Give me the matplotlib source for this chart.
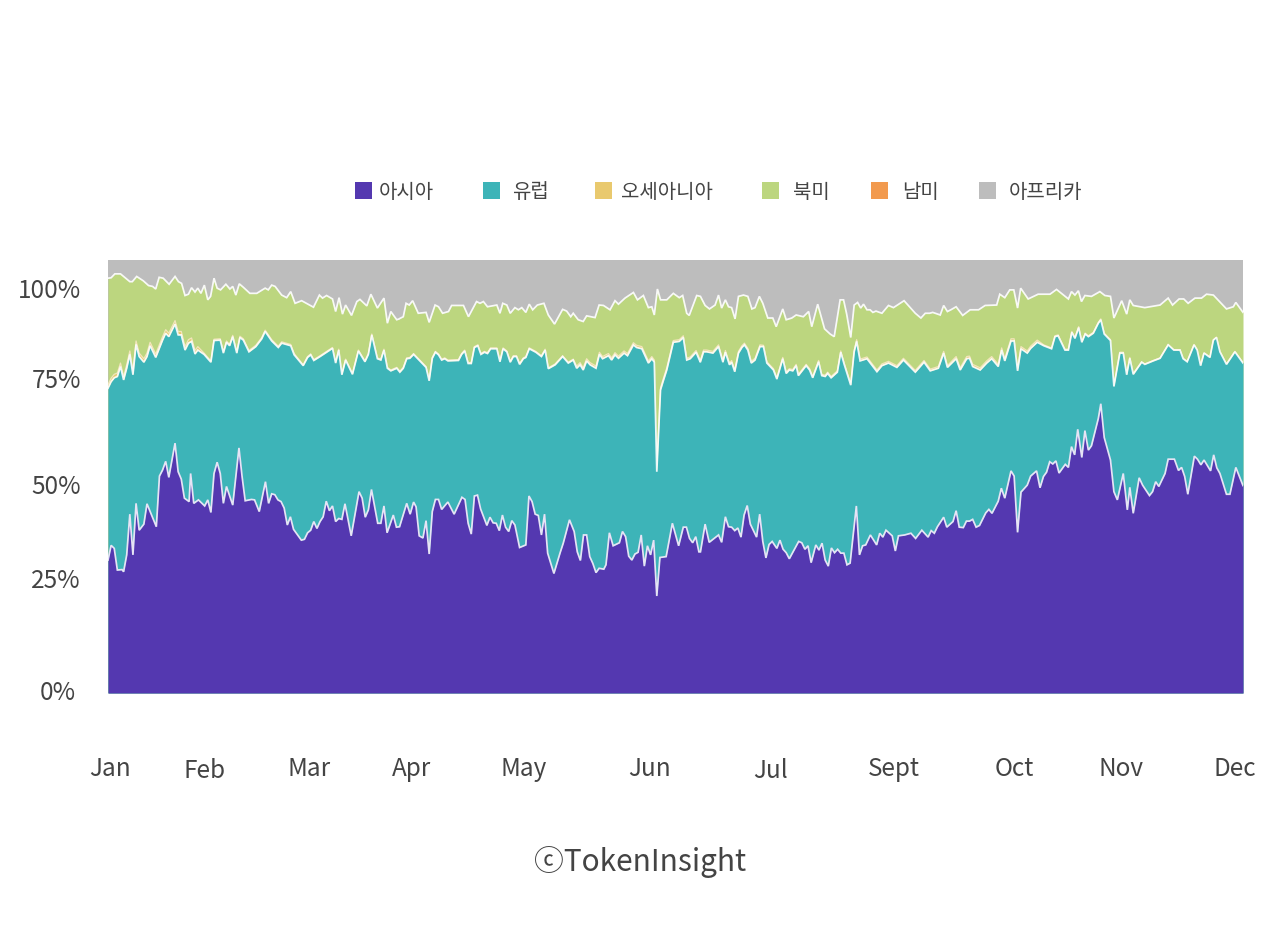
import numpy as np
import matplotlib
matplotlib.use("Agg")
import matplotlib.pyplot as plt
from matplotlib.patches import Rectangle

plt.rcParams['font.family'] = ['Noto Sans CJK KR', 'DejaVu Sans']

# top edge of each band, share of the full stack in percent
asia_days = [0,1,2,3,4.5,5,6,7,8,9,10,11.5,12.5,15.5,16.5,17.5,18.5,19.5,21.5,22.5,23.5,24.5,26,26.5,27.5,29,31,32,33,34,35,36,37,38,40,42,43,44,46,47,48.5,50.5,51.5,52.5,53.5,54.5,55.5,56.5,57.5,58.5,59.5,62,63,64,65,66,67,68,69,70,71,72,73,74,75,76,78,80.5,81.5,82.5,83.5,84.5,86.5,87.5,88.5,89.5,91.5,92.5,
    93.5,95.8,96.9,98,98.8,99.8,101,102,103,104,105,106,107,109,111,113.5,114.5,115.5,116.5,117.5,118.5,119.5,121.5,122.5,123.5,124.5,125.5,126.5,127.5,128.5,129.5,130.5,132,134,135,136,137,138,139,140,141,143,145,146,148,149.5,150.5,151.5,152.5,153.5,154.5,155.5,156.5,157.5,159,159.7,160.8,162,164,165,166,167,168,169,170,171,172,173,174,175,176,177,179,181,183,184.5,185.5,186.5,187.5,188.5,189.5,
    190,191.5,192.8,195.8,196.8,198,199,200,201,202,203,204,205,206,208,209,210,211,212,213,214.5,215.5,216.5,217.5,218.5,221.5,222.5,223.5,224.5,225.5,227,228,229,230,231,232,233,234,235,236,237,238,240,241,242,243,244.5,246.5,247.5,248.5,249.5,251.5,252.5,253.5,255.5,257.5,259,261,263,264,265,266,268,269,271,272,273,274.3,275.3,276.3,277.3,278.4,279.5,281.5,282.5,283.5,
    285.5,286.5,287.6,289.6,290.6,291.7,292.8,294.8,295.9,297.8,298.9,300,301,302,303,304,305,307,308,309,310,311,312.3,313.3,314.4,315.4,317.6,318.4,319.5,321.5,322.6,323.7,325.6,326.9,327.7,328.8,330.7,331.8,334,335,336,337,339,340,342,343.3,344.3,345.3,346.3,348.4,349.4,350.5,351.5,353.6,354.6,355.6,356.6,358.7,359.8,361.7,364]
asia_top = [30.7,34.1,33.4,28.4,28.5,28.0,31.9,41.3,31.9,43.8,37.6,39.0,43.7,38.4,50.1,51.5,53.5,49.8,57.7,51.1,49.4,45.0,44.2,50.7,43.8,44.6,43.2,44.6,41.7,50.7,53.3,50.7,43.8,47.7,43.4,56.6,50.0,44.4,44.7,44.6,41.9,48.8,43.8,46.0,45.8,44.6,44.2,42.7,38.8,40.7,37.8,35.3,35.5,37.0,37.6,39.6,38.0,39.6,40.7,44.3,42.1,43.2,39.6,40.3,40.1,43.7,36.3,46.5,45.0,40.6,42.3,47.0,39.2,39.2,43.2,37.0,41.1,38.3,
    38.4,43.8,41.3,44.1,43.0,36.3,35.8,39.8,32.1,41.9,44.7,44.7,42.4,44.1,41.3,45.2,44.7,39.2,36.7,45.5,45.7,42.5,38.7,40.6,39.3,39.2,37.5,41.1,38.3,37.3,39.8,38.8,33.6,34.2,45.5,44.2,41.3,41.0,36.5,41.3,32.3,27.6,32.4,34.6,40.0,37.3,32.6,30.6,36.5,36.5,31.5,29.9,27.8,28.8,28.6,29.6,37.0,34.0,34.7,37.3,36.1,31.6,30.7,32.1,32.5,36.5,29.3,34.0,31.9,35.3,22.4,31.3,31.5,39.2,34.0,38.3,38.3,35.7,34.7,36.1,32.6,
    32.6,39.0,34.8,36.5,34.8,40.7,38.4,38.3,37.5,38.1,36.0,41.1,43.3,39.0,36.0,41.3,35.0,31.2,34.3,35.0,33.4,35.3,33.2,32.4,31.0,35.0,34.7,33.2,34.0,30.1,34.2,33.0,34.6,30.7,29.3,33.5,32.4,33.2,32.3,32.3,29.6,30.0,43.2,31.9,34.0,34.2,36.5,34.2,36.9,36.0,37.6,36.3,32.8,36.3,36.5,36.9,35.7,37.6,36.0,37.5,36.9,38.4,40.6,38.3,39.6,42.1,38.3,38.2,39.7,39.7,40.1,38.3,38.7,41.6,42.4,41.5,
    44.3,47.3,45.0,51.3,50.1,37.1,46.4,48.0,50.1,51.3,47.4,50.0,51.0,53.4,52.9,53.6,50.8,52.8,52.1,56.9,55.0,60.9,54.4,60.6,56.1,57.1,63.4,66.8,59.0,53.8,46.5,44.6,50.7,42.3,47.5,41.5,49.7,48.0,45.6,46.5,48.8,47.7,50.7,54.0,54.0,51.4,52.1,50.0,45.9,54.7,54.0,52.7,53.8,51.3,55.0,52.0,50.7,45.9,45.9,52.1,47.9]

europe_days = [0,1,2,3,4,5,6,7,8,9,10,11.5,12.5,13.5,15.3,17.5,18.5,19.5,21.5,22.5,23.5,24.7,25.8,26.8,27.9,28.8,30.8,33,34,36,37,38,39,40,41.3,42.3,43.4,45.2,47.4,49.3,50.4,52.5,54.6,55.7,58.6,59.7,62.6,64,65,66,68,72,73,74,75,76.2,78.4,80.3,82.4,83.5,84.6,86.4,87.5,88.5,89.6,90.7,92.6,93.6,
    94.7,95.8,96.8,98,100,102,103,104,105,106,107,108,109,112.4,113.4,114.4,115.5,116.5,117.5,118.6,119.6,120.7,121.7,122.7,124.7,125.7,126.7,127.9,129,130,131,132,133.2,134,135.1,137.2,139,140.2,141.2,143.4,145.8,147.6,149.2,150.3,151.4,152.4,153.5,154.6,156.5,157.6,158.6,160.5,161.5,162.6,163.7,165.5,166.6,168.5,169.5,171.2,173.3,174.4,175.2,176,177.2,178,179.2,181.3,183.2,184.5,185.6,186.7,188.6,189.9,
    190,191,192,194,195.8,197.2,198,199.3,200,201,202.2,203.3,204.1,205.2,206.3,207.5,209.1,210.2,211.3,213.4,214.5,216.4,217.5,218.5,219.6,220.7,221.4,223.9,225,226,227.9,228.9,230,230.8,231.9,233.9,235,236.1,238.2,239.3,240.1,241.2,243.4,246.6,248.2,250.3,253,255.1,258.9,261.7,263.7,266.3,268,269.2,272,273.3,275.4,276.3,277.3,279.7,281.8,283.4,
    285.5,286.6,287.6,289.6,290.6,291.7,292.8,294.8,295.9,298,300.1,302.6,303.7,304.7,306.9,308,309.1,310.1,311.3,312.3,313.4,314.4,316,317.6,318.4,319.5,321.5,322.6,324.5,325.6,326.7,327.7,328.8,331.5,332.5,335.2,337.4,340,341.8,343.8,344.8,346.1,348.3,349.3,350.4,351.5,353.4,354.5,355.5,356.6,358.7,361.4,364]
europe_top = [70.4,71.9,72.8,73.1,75.4,72.3,75.0,78.2,73.5,80.5,77.7,76.4,77.7,80.2,77.5,81.5,83.1,82.3,85.2,82.7,82.7,79.2,80.8,81.2,78.3,79.2,78.2,76.4,81.4,81.5,78.5,81.0,80.2,82.3,78.5,82.1,81.5,78.8,80.0,81.8,83.5,81.3,79.8,80.8,80.2,78.1,75.6,77.5,78.1,76.8,77.7,79.6,76.2,79.2,73.5,76.9,73.6,79.0,76.5,78.2,82.7,77.2,76.9,79.2,75.0,74.4,75.0,74.1,
    75.0,77.2,77.3,78.2,76.7,75.2,72.1,77.3,78.7,78.1,76.9,77.2,76.7,76.8,78.2,79.0,76.1,76.1,79.8,80.2,78.2,78.7,78.4,79.5,79.5,76.5,79.5,78.8,76.4,77.7,77.7,75.9,77.2,77.5,79.5,78.7,77.7,79.2,74.9,75.8,77.7,76.2,76.9,75.0,75.8,74.6,76.7,75.8,75.0,78.2,77.2,77.9,76.9,78.1,77.3,78.5,77.9,80.4,79.8,79.5,76.2,77.2,76.4,51.1,70.0,71.9,74.6,81.0,81.2,82.1,76.9,77.2,78.7,76.5,
    76.5,78.8,78.8,78.5,80.0,76.4,78.7,75.8,76.4,74.2,78.5,79.8,80.4,79.2,76.2,76.9,80.0,80.0,76.2,74.6,72.5,77.2,73.8,74.6,74.4,75.6,73.3,75.6,74.6,72.8,76.5,73.3,73.1,73.8,72.8,74.1,78.7,75.9,71.1,78.8,81.2,76.7,77.2,74.2,75.6,76.2,75.2,76.9,74.1,76.4,74.4,75.0,78.5,75.2,77.2,74.6,77.2,77.3,75.4,74.6,76.2,77.2,
    75.4,79.2,76.7,81.3,81.3,74.4,79.5,78.5,79.6,81.0,80.2,79.5,82.3,82.5,79.2,79.2,83.3,81.9,84.4,81.0,82.9,82.3,83.1,85.4,86.2,82.9,81.4,70.8,78.5,78.5,73.5,77.3,73.6,76.4,75.9,76.7,77.3,80.4,79.2,79.2,77.2,76.5,80.4,79.2,75.6,78.5,77.5,81.5,82.1,78.8,75.9,78.8,76.2]

# oceania is only a hair above europe, one reading per 30 days
oceania_share = [0.8,0.3,0.2,0.2,0.2,0.5,0.4,0.3,0.4,0.5,0.2,0.1,0.1]

north_america_days = [0,1,2.2,4,5.5,7,7.8,9.2,11.3,13,14.3,15.3,16.4,17.7,19.6,21.5,22.6,23.6,24.7,25.8,26.8,27.9,28.8,29.8,30.9,32,32.9,34,35,36.1,37.8,39.1,40,41,42.1,43.4,45.5,47.7,50.4,51.4,52.5,53.6,55.7,57.3,58.6,60,62.1,65.9,67.8,68.8,70.1,72,73,74.1,75.2,76.2,78.1,79.8,80.8,83,84.3,86.4,88.5,89.6,90.7,92.6,93.4,
    93.6,94.7,95.6,96.6,97.7,99.5,102,103,104.9,106,107.3,109.2,110.2,114,115.6,118.2,119.3,120.4,121.7,124.7,125.7,126.6,127.9,129,130.5,131.6,132.7,134,135.1,136.2,137.7,139.8,141.2,143.2,145.8,147.1,148.4,149.2,150.8,152.4,153.5,156.2,157.5,158.9,161,162.6,163.7,165.8,168.5,169.8,171.7,173.3,174.4,175.2,176.2,177.2,179.2,181.3,183.2,184.3,185.6,186.4,188.8,189.9,
    190,191.5,192.9,194.7,195.8,196.8,198,199,200,201.1,202.2,203.8,205.2,206.5,207.5,208.9,210,211.6,213.2,214.3,216.4,217.5,219.3,220.7,223,224.7,225.7,227.6,229.8,231.6,232.9,234.8,235.9,236.9,238.2,239.3,240.4,241.4,242.3,243.4,244.4,245.3,246.3,248.2,250.3,251.9,255.3,258.9,260.7,262.1,263.5,264.5,266.9,268,269.2,270.3,272,274.1,276.5,279.2,281.3,285,
    286,287.6,289.2,290.5,291.7,292.7,295.1,298.3,302.1,304.2,308,309,310.1,311.2,312.2,313.3,315.4,318.1,319.7,321.5,322.6,325.1,326.7,327.7,328.8,332.5,334.1,337.4,340,341.4,343.5,345,346.4,348.6,350.7,352.3,354.5,358.7,360.9,361.7,364]
north_america_top = [95.8,95.9,96.8,96.8,95.9,95.0,95.0,96.2,95.2,94.1,93.9,93.3,96.0,95.8,94.4,96.2,95.0,94.6,91.8,92.1,93.6,92.6,93.5,92.3,94.2,90.8,91.6,95.8,93.5,93.1,94.4,93.3,93.9,91.9,94.5,93.7,92.3,92.3,93.5,93.1,94.2,93.9,91.9,91.3,92.7,90.0,90.6,89.1,91.9,91.2,91.8,91.0,88.1,91.3,87.5,89.6,87.2,90.4,90.9,89.4,92.1,88.9,91.2,85.4,88.1,86.2,86.4,
    86.5,86.9,90.0,89.6,90.6,87.7,87.9,85.6,89.6,89.2,87.7,88.1,89.5,89.5,86.9,90.4,90.0,90.4,89.2,89.6,87.7,90.0,89.6,87.7,89.0,88.5,89.0,87.9,89.8,88.5,89.6,90.0,87.3,85.2,88.6,88.2,86.9,87.7,86.2,85.8,87.1,86.7,89.6,89.5,88.5,90.6,89.8,91.2,92.5,90.8,91.8,89.0,89.2,87.3,93.3,90.8,90.8,92.3,91.3,91.8,87.7,87.2,91.8,91.6,
    91.6,89.5,88.7,89.6,91.9,88.9,90.8,89.2,89.0,86.4,91.6,91.9,91.6,88.7,89.0,91.6,90.0,86.6,86.6,84.6,88.7,86.2,86.6,87.3,86.9,88.1,84.6,89.8,84.1,82.9,82.3,90.8,90.8,87.5,82.1,89.6,90.2,88.9,89.8,88.5,88.5,87.9,88.2,87.7,89.5,89.0,90.6,87.7,86.6,87.7,87.7,87.9,87.3,89.5,88.1,88.5,89.2,87.2,88.5,88.5,89.5,89.6,
    92.1,91.3,93.1,93.1,88.9,93.5,91.0,92.1,92.1,93.2,91.0,92.7,91.9,92.9,90.4,91.8,91.6,92.7,91.8,91.6,86.6,90.6,87.5,90.8,89.5,89.0,89.2,89.6,91.2,89.6,91.0,91.0,90.0,91.2,91.2,92.1,91.9,88.7,89.2,90.2,87.9]

region_names = ['아시아', '유럽', '오세아니아', '북미', '남미', '아프리카']
region_colors = ['#5438b0', '#3db4b8', '#e9c96e', '#bcd67f', '#f29a4e', '#bdbdbd']
legend_box_px = [355, 483, 595, 762, 871, 979]
legend_text_px = [379, 512, 621, 793, 902, 1009]

month_labels = ['Jan', 'Feb', 'Mar', 'Apr', 'May', 'Jun', 'Jul', 'Sept', 'Oct', 'Nov', 'Dec']
month_ticks = [0.6, 30.8, 64.5, 97.2, 133.4, 173.8, 212.6, 252.1, 290.6, 324.9, 361.4]
share_labels = ['0%', '25%', '50%', '75%', '100%']
share_ticks = [0.7, 26.6, 48.3, 72.7, 93.5]

W, H = 1280, 925
fig = plt.figure(figsize=(W / 100, H / 100), dpi=100, facecolor='white')
ax = fig.add_axes([108 / W, (H - 693) / H, 1135 / W, 433 / H])
ax.set_xlim(0, 364)
ax.set_ylim(0, 100)
for side in ax.spines.values():
    side.set_visible(False)

text_color = '#444444'
edge = dict(color='white', lw=1.25, alpha=0.9, solid_joinstyle='miter')

# paint the bands from the top of the stack downwards
ax.axhspan(0, 100, color=region_colors[5], lw=0, zorder=1)
ax.fill_between(north_america_days, north_america_top, color=region_colors[3], lw=0, zorder=2)
ax.plot(north_america_days, north_america_top, zorder=3, **edge)

europe_days_arr = np.array(europe_days)
oceania_top = np.array(europe_top) + np.array(oceania_share)[(europe_days_arr // 30).astype(int)]
ax.fill_between(europe_days, europe_top, oceania_top, color=region_colors[2], lw=0, zorder=4)
ax.plot(europe_days, oceania_top, color='#f3e6bc', lw=0.9, zorder=4.5)
ax.fill_between(europe_days, europe_top, color=region_colors[1], lw=0, zorder=5)
ax.plot(europe_days, europe_top, zorder=6, **edge)
ax.fill_between(asia_days, asia_top, color=region_colors[0], lw=0, zorder=7)
ax.plot(asia_days, asia_top, zorder=8, color='#e6e4f5', lw=1.25, solid_joinstyle='miter')

ax.set_xticks(month_ticks, month_labels)
ax.set_yticks(share_ticks, share_labels)
ax.tick_params(axis='x', length=0, pad=45.5, labelsize=17.5, labelcolor=text_color)
ax.tick_params(axis='y', length=0, pad=19.4, labelsize=17.5, labelcolor=text_color)
for lab in ax.get_xticklabels():
    if lab.get_text() in ('Feb', 'Jul'):
        lab.set_y(-2 / 433)
for lab in ax.get_yticklabels():
    if lab.get_text() == '0%':
        lab.set_x(-5 / 1135)

# legend is spaced by hand in the original
for name, color, box_x, text_x in zip(region_names, region_colors, legend_box_px, legend_text_px):
    fig.add_artist(Rectangle((box_x / W, (H - 199) / H), 17 / W, 17 / H, transform=fig.transFigure,
                             facecolor=color, edgecolor='none'))
    fig.text(text_x / W, (H - 192.5) / H, name, fontsize=14.4, color=text_color, va='center', ha='left')

fig.text(640 / W, (H - 862) / H, 'ⓒTokenInsight', fontsize=21.5, color=text_color, va='center', ha='center')

fig.savefig('out.png', dpi=100)
